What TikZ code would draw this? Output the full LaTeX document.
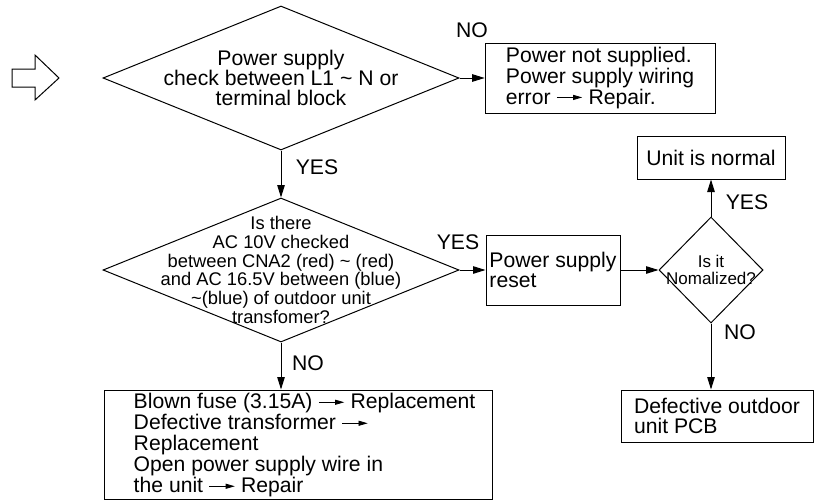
\documentclass[tikz,border=0pt]{standalone}
\usepackage{fontspec}
\setmainfont{Liberation Sans}
\usepackage{tikz}
\usetikzlibrary{arrows.meta, positioning, shapes.geometric}

\newcommand{\toarrow}{\tikz[baseline=-0.6ex]\draw[line width=0.5pt,-{Triangle[length=5.5pt,width=3pt]}] (0,0) -- (1.2em,0);}

\begin{document}
\begin{tikzpicture}[
        x=0.6pt, y=-0.6pt,
        font=\fontsize{12.7}{12.4}\selectfont,
        line width=0.6pt,
        box/.style={
            draw,
            rectangle,
            align=left,
            inner sep=0pt
        },
        decision/.style={
            draw,
            diamond,
            inner sep=0pt
        },
        answer/.style={inner sep=1pt},
        arrow/.style={-{Triangle[length=7.5pt,width=4.5pt]}, line width=0.6pt}
    ]
        \useasboundingbox (0,0) rectangle (818,501);

        % hollow start arrow
        \draw (12,69) -- (35,69) -- (35,55) -- (59,78) -- (35,100) -- (35,87) -- (12,87) -- cycle;

        \node[decision, minimum width=213.6pt, minimum height=86.4pt,
            label={[name=checktext, align=center, font=\fontsize{12.7}{12}\selectfont]center:{Power supply\\check between L1 \textasciitilde{} N or\\terminal block}}] (check) at (281,78) {};
        \node[box, minimum width=138pt, minimum height=42pt] (nosupply) at (600,78) {Power not supplied.\\Power supply wiring\\error \toarrow{} Repair.};

        \node[decision, minimum width=213.6pt, minimum height=86.4pt,
            label={[name=voltstext, align=center, font=\fontsize{11}{11.2}\selectfont]center:{Is there\\AC 10V checked\\between CNA2 (red) \textasciitilde{} (red)\\and AC 16.5V between (blue)\\\textasciitilde(blue) of outdoor unit\\transfomer?}}] (volts) at (281,270) {};
        \node[box, minimum width=80.4pt, minimum height=42pt] (reset) at (553,270) {Power supply\\reset};
        \node[decision, minimum width=62.4pt, minimum height=63.6pt,
            label={[name=normtext, align=center, font=\fontsize{10.2}{10.2}\selectfont]center:{Is it\\Nomalized?}}] (normalized) at (711,270) {};
        \node[box, minimum width=88.8pt, minimum height=25.8pt] (normal) at (711,157.5) {Unit is normal};
        \node[box, minimum width=115.2pt, minimum height=31.2pt] (pcb) at (717,416) {Defective outdoor\\unit PCB};
        \node[box, minimum width=232.8pt, minimum height=65.4pt,
            label={[name=fusetext, align=left, anchor=west, xshift=14.6pt, yshift=-0.6pt, font=\fontsize{12.7}{12.6}\selectfont]west:{Blown fuse (3.15A) \toarrow{} Replacement\\Defective transformer \toarrow\\Replacement\\Open power supply wire in\\the unit \toarrow{} Repair}}] (fuse) at (298,444.5) {};

        \node[answer] (no1) at (472,30) {NO};
        \node[answer] (yes1) at (317,167) {YES};
        \node[answer] (yes2) at (458,242) {YES};
        \node[answer] (no2) at (308,363) {NO};
        \node[answer] (yes3) at (747,202) {YES};
        \node[answer] (no3) at (740,332) {NO};

        \draw[arrow] (check.east) -- (nosupply.west);
        \draw[arrow] (check.south) -- (volts.north);
        \draw[arrow] (volts.east) -- (reset.west);
        \draw[arrow] (volts.south) -- (volts.south |- fuse.north);
        \draw[arrow] (reset.east) -- (normalized.west);
        \draw[arrow] (normalized.north) -- (normal.south);
        \draw[arrow] (normalized.south) -- (normalized.south |- pcb.north);
    \end{tikzpicture}
\end{document}
